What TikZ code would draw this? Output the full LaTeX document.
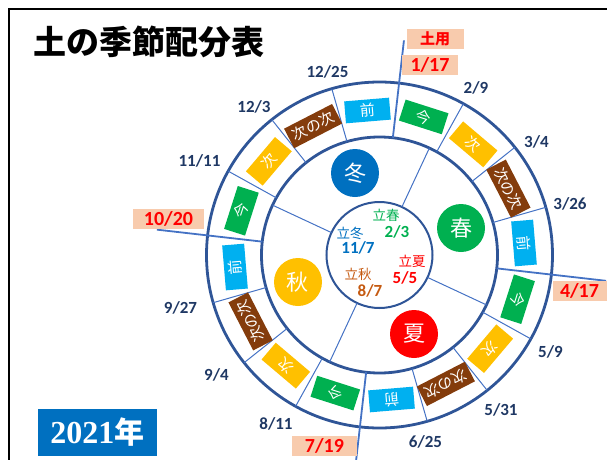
\documentclass[tikz,border=0pt]{standalone}
\usepackage{fontspec}
\setmainfont{Carlito}
\newfontfamily\jp{Noto Sans CJK JP}
\newfontfamily\serifnum{Liberation Serif}
\definecolor{ringblue}{HTML}{2F5597}
\definecolor{lineblue}{HTML}{4472C4}
\definecolor{navy}{HTML}{1F3864}
\definecolor{peach}{HTML}{F8CBAD}
\definecolor{maeblue}{HTML}{00B0F0}
\definecolor{imagreen}{HTML}{00B050}
\definecolor{tsugigold}{HTML}{FFC000}
\definecolor{tsugibrown}{HTML}{843C0C}
\definecolor{fuyublue}{HTML}{0070C0}
\definecolor{akibrown}{HTML}{C55A11}
\tikzset{
  ring/.style={ringblue,line width=2.8pt},
  sep/.style={lineblue,line width=1pt},
  major/.style={lineblue,line width=1.8pt},
  date/.style={navy,font=\bfseries\fontsize{17}{17}\selectfont},
  cell/.style={text=white,minimum height=22pt,inner sep=0pt,font=\jp\fontsize{15}{15}\selectfont},
  tag/.style={fill=peach,text=red,inner sep=0pt,minimum height=20pt,font=\bfseries\fontsize{20}{20}\selectfont},
  season/.style={circle,minimum size=48pt,inner sep=0pt,text=white,font=\jp\fontsize{22}{22}\selectfont},
  risshun/.style={font=\jp\fontsize{13.5}{13.5}\selectfont},
  rdate/.style={font=\bfseries\fontsize{17}{17}\selectfont}
}
\begin{document}
\begin{tikzpicture}[x=1pt,y=1pt]
\useasboundingbox (-379.5,-204) rectangle (227.5,255);
% frame and title
\draw[line width=2pt] (-370.5,-210) -- (-370.5,246) -- (232,246);
\node[font=\jp\bfseries\fontsize{33}{33}\selectfont] (title) at (-230.5,213) {土の季節配分表};
% circles
\draw[ring] (0,0) circle (173);
\draw[ring] (0,0) circle (118);
\draw[ringblue,line width=2pt] (0,0) circle (53);
% ring separators
\foreach \k in {1,2,3,5,6,7,9,10,11,13,14,15}
  \draw[sep] ({83.5-22.5*\k}:118) -- ({83.5-22.5*\k}:173);
\foreach \k/\r in {0/216,4/228,8/228,12/224}
  \draw[major] ({83.5-22.5*\k}:118) -- ({83.5-22.5*\k}:\r);
\foreach \a in {65,155,245,335}
  \draw[sep] (\a:53) -- (\a:118);
% ring cells
\foreach \k/\t/\c/\w in {0/今/imagreen/45,1/次/tsugigold/45,2/次の次/tsugibrown/54,3/前/maeblue/45,
    4/今/imagreen/45,5/次/tsugigold/45,6/次の次/tsugibrown/54,7/前/maeblue/45,
    8/今/imagreen/45,9/次/tsugigold/45,10/次の次/tsugibrown/54,11/前/maeblue/45,
    12/今/imagreen/45,13/次/tsugigold/45,14/次の次/tsugibrown/54,15/前/maeblue/45}
  \node[cell,fill=\c,minimum width=\w pt,rotate=72.25-22.5*\k-90] (cell\k) at ({72.25-22.5*\k}:145) {\t};
% dates
\node[date] (d1) at (-52,183) {12/25};
\node[date] (d2) at (96.5,167.5) {2/9};
\node[date] (d3) at (157,113) {3/4};
\node[date] (d4) at (190.5,51) {3/26};
\node[date] (d5) at (171,-97) {5/9};
\node[date] (d6) at (121.5,-154.5) {5/31};
\node[date] (d7) at (46,-187) {6/25};
\node[date] (d8) at (-103.5,-168.5) {8/11};
\node[date] (d9) at (-163,-119.5) {9/4};
\node[date] (d10) at (-199,-52.5) {9/27};
\node[date] (d11) at (-180,94.5) {11/11};
\node[date] (d12) at (-125.5,148.5) {12/3};
% doyo start
\node[tag,minimum width=57pt,font=\jp\bfseries\fontsize{15}{15}\selectfont] (doyo) at (55.5,216) {土用};
\node[tag,minimum width=56pt] (t1) at (50.5,190) {1/17};
\node[tag,minimum width=54pt] (t2) at (200,-36) {4/17};
\node[tag,minimum width=65pt] (t3) at (-55,-191) {7/19};
\node[tag,minimum width=71pt] (t4) at (-211,36) {10/20};
% seasons
\node[season,fill=fuyublue] (fuyu) at (-24.5,82) {冬};
\node[season,fill=imagreen] (haru) at (81.5,27) {春};
\node[season,fill=red] (natsu) at (34.5,-79) {夏};
\node[season,fill=tsugigold] (aki) at (-81.5,-27) {秋};
% centre
\node[risshun,imagreen] (lh) at (6.5,40) {立春};
\node[rdate,imagreen] (lhd) at (17.5,23) {2/3};
\node[risshun,fuyublue] (lf) at (-29.5,22) {立冬};
\node[rdate,fuyublue] (lfd) at (-21.5,7) {11/7};
\node[risshun,red] (ln) at (32.5,-6) {立夏};
\node[rdate,red] (lnd) at (25.5,-23) {5/5};
\node[risshun,akibrown] (la) at (-21.5,-19) {立秋};
\node[rdate,akibrown] (lad) at (-9.5,-36) {8/7};
% year
\node[fill=fuyublue,text=white,minimum width=119pt,minimum height=47pt,inner sep=0pt] (year) at (-282,-177.5)
  {\serifnum\bfseries\fontsize{32}{32}\selectfont 2021\jp\fontsize{30}{30}\selectfont 年};
\end{tikzpicture}
\end{document}
